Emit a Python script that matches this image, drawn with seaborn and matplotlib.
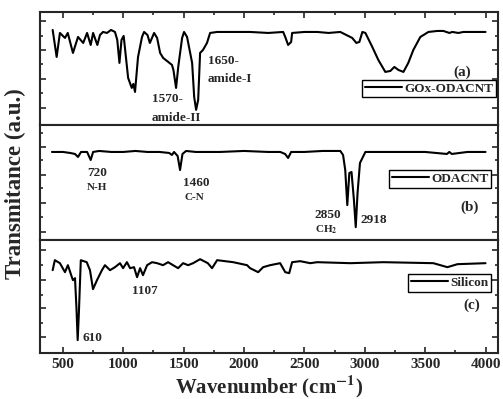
import numpy as np
import pandas as pd
import matplotlib
matplotlib.use("Agg")
import matplotlib.pyplot as plt
import seaborn as sns
from matplotlib.ticker import MultipleLocator, FixedLocator

# (a) GOx-ODACNT
wn_a = [415, 448, 475, 517, 540, 583, 625, 668, 700, 730, 750, 785, 807, 832, 865, 898,
        931, 950, 968, 985, 1003, 1040, 1070, 1083, 1097, 1122, 1155, 1172, 1200, 1220,
        1255, 1280, 1305, 1330, 1372, 1403, 1415, 1437, 1455, 1487, 1503, 1528, 1570,
        1587, 1603, 1620, 1636, 1660, 1693, 1719, 1777, 1910, 2050, 2200, 2324, 2341,
        2365, 2390, 2398, 2500, 2606, 2700, 2797, 2896, 2930, 2955, 2980, 3005, 3062,
        3112, 3170, 3212, 3245, 3278, 3320, 3360, 3402, 3460, 3527, 3600, 3651, 3700,
        3725, 3775, 3817, 3900, 4000]
t_a = [95, 68, 92, 87, 92, 72, 88, 82, 92, 80, 92, 80, 90, 93, 92, 95,
       93, 85, 62, 85, 89, 47, 37, 41, 33, 68, 88, 93, 90, 82,
       92, 87, 72, 67, 63, 60, 55, 37, 58, 87, 93, 88, 62,
       28, 15, 25, 72, 75, 82, 92, 93, 93, 93, 92, 93, 88,
       80, 83, 92, 93, 93, 92, 93, 87, 82, 83, 93, 92, 78,
       65, 53, 54, 58, 55, 53, 62, 75, 88, 93, 94, 94, 92,
       93, 92, 93, 93, 93]

# (b) ODACNT
wn_b = [409, 500, 560, 600, 625, 650, 700, 730, 750, 800, 900, 1000, 1100, 1200, 1300,
        1380, 1403, 1420, 1450, 1470, 1490, 1520, 1600, 1800, 2000, 2200, 2300, 2340,
        2365, 2390, 2500, 2650, 2797, 2820, 2838, 2855, 2872, 2890, 2910, 2925, 2940,
        2960, 3005, 3200, 3500, 3680, 3700, 3720, 3850, 4000]
t_b = [88, 88, 87, 86, 83, 88, 88, 80, 88, 89, 88, 88, 89, 88, 88,
       87, 85, 88, 84, 70, 86, 89, 88, 88, 89, 88, 88, 86,
       82, 88, 88, 89, 89, 85, 70, 35, 67, 68, 40, 13, 47,
       77, 88, 88, 88, 86, 88, 86, 88, 88]

# (c) Silicon
wn_c = [415, 433, 475, 517, 541, 574, 583, 600, 612, 622, 632, 648, 697, 724, 749, 782,
        823, 848, 890, 931, 973, 998, 1030, 1056, 1089, 1114, 1139, 1163, 1197, 1238,
        1280, 1329, 1371, 1412, 1454, 1495, 1537, 1578, 1636, 1700, 1735, 1777, 1910,
        2025, 2050, 2117, 2158, 2216, 2299, 2341, 2374, 2398, 2465, 2548, 2606, 2880,
        3153, 3568, 3684, 3767, 4000]
t_c = [83, 93, 90, 81, 88, 76, 73, 75, 45, 13, 40, 93, 91, 83, 64, 73,
       83, 88, 83, 86, 90, 85, 91, 85, 86, 76, 85, 78, 88, 91,
       90, 88, 91, 88, 85, 90, 88, 90, 94, 90, 85, 93, 91,
       88, 85, 81, 86, 88, 90, 81, 80, 91, 92, 90, 91, 90,
       91, 90, 86, 89, 90]

names = ["GOx-ODACNT", "ODACNT", "Silicon"]
panel_tags = ["(a)", "(b)", "(c)"]

sns.set_theme(style="ticks")
plt.rcParams["font.family"] = ["Liberation Serif", "DejaVu Serif"]
plt.rcParams["font.weight"] = "bold"
plt.rcParams["mathtext.fontset"] = "stix"
plt.rcParams["axes.linewidth"] = 1.5

fig = plt.figure(figsize=(5.03, 3.99), dpi=100)
left, width = 0.0795, 0.911
boxes = [(0.687, 0.283), (0.398, 0.289), (0.115, 0.283)]
heights = [113, 115, 113]
spectra = [(wn_a, t_a), (wn_b, t_b), (wn_c, t_c)]
ymajor = [[17, 46, 75, 104], [8, 37, 65, 93], [16, 45, 73, 103]]
yminor = [[32, 61, 89], [23, 52, 80, 107], [30, 58, 88]]
leg_anchor = [(0.995, 0.245), (0.985, 0.455), (0.985, 0.545)]
tag_pos = [(3808, 53), (3866, 33), (3883, 48)]

axes = []
for i in range(3):
    ax = fig.add_axes([left, boxes[i][0], width, boxes[i][1]])
    df = pd.DataFrame({"wn": spectra[i][0], "T": spectra[i][1]})
    sns.lineplot(data=df, x="wn", y="T", ax=ax, color="black", lw=1.5,
                 sort=False, estimator=None, label=names[i])
    ax.set_xlim(310, 4105)
    ax.set_ylim(0, heights[i])
    ax.xaxis.set_major_locator(MultipleLocator(500))
    ax.xaxis.set_minor_locator(MultipleLocator(250))
    ax.yaxis.set_major_locator(FixedLocator(ymajor[i]))
    ax.yaxis.set_minor_locator(FixedLocator(yminor[i]))
    ax.set_yticklabels([])
    ax.set_xlabel("")
    ax.set_ylabel("")
    ax.tick_params(axis="both", which="both", direction="in", left=True, right=True,
                   top=(i == 0), bottom=(i == 2), labelbottom=(i == 2), width=1.2)
    ax.tick_params(which="major", length=4)
    ax.tick_params(which="minor", length=2.5)
    leg = ax.legend(loc="lower right", bbox_to_anchor=leg_anchor[i], frameon=True,
                    fancybox=False, edgecolor="black", framealpha=1, handlelength=2.8,
                    handletextpad=0.2, borderpad=0.2, borderaxespad=0,
                    prop={"family": "Liberation Serif", "weight": "bold", "size": 9.5})
    leg.get_frame().set_linewidth(1.0)
    ax.text(tag_pos[i][0], tag_pos[i][1], panel_tags[i], ha="center", va="center",
            fontsize=11, fontweight="bold")
    axes.append(ax)

ax_a, ax_b, ax_c = axes
ann = dict(fontweight="bold", va="center")
ax_a.text(1238, 26, "1570-", ha="left", fontsize=9.5, **ann)
ax_a.text(1238, 7, "amide-II", ha="left", fontsize=9.5, **ann)
ax_a.text(1702, 64, "1650-", ha="left", fontsize=9.5, **ann)
ax_a.text(1702, 46, "amide-I", ha="left", fontsize=9.5, **ann)

ax_b.text(782, 67, "720", ha="center", fontsize=9.5, **ann)
ax_b.text(782, 53, "N-H", ha="center", fontsize=8, **ann)
ax_b.text(1600, 57, "1460", ha="center", fontsize=9.5, **ann)
ax_b.text(1590, 43, "C-N", ha="center", fontsize=8, **ann)
ax_b.text(2690, 25, "2850", ha="center", fontsize=9.5, **ann)
ax_b.text(2680, 10, r"CH$_\mathbf{2}$", ha="center", fontsize=8, **ann)
ax_b.text(2963, 20, "2918", ha="left", fontsize=9.5, **ann)

ax_c.text(658, 15, "610", ha="left", fontsize=9.5, **ann)
ax_c.text(1180, 62, "1107", ha="center", fontsize=9.5, **ann)

for lab in ax_c.get_xticklabels():
    lab.set_fontweight("bold")
    lab.set_fontsize(11)

ax_c.set_xlabel(r"Wavenumber (cm$^{\mathbf{-1}}$)", fontsize=15, fontweight="bold", labelpad=2)
fig.text(0.03, 0.54, "Transmitance (a.u.)", rotation=90, ha="center", va="center",
         fontsize=16.5, fontweight="bold")

fig.savefig("out.png", dpi=100)
